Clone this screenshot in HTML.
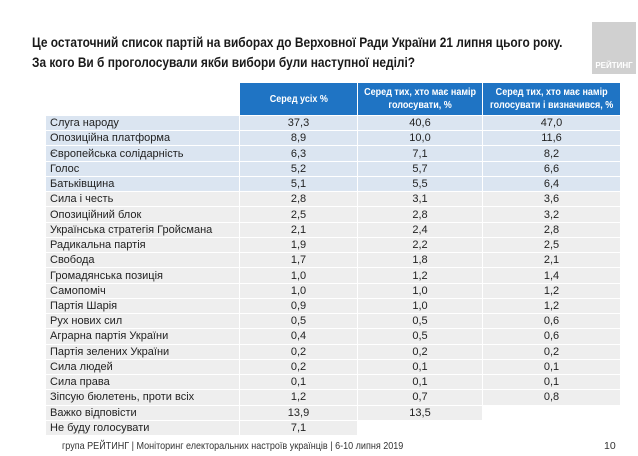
<!DOCTYPE html>
<html><head><meta charset="utf-8">
<style>
body{margin:0;width:638px;height:456px;background:#fff;font-family:"Liberation Sans",sans-serif;position:relative;overflow:hidden;color:#222}
.abs{position:absolute}
.title{left:32px;font-weight:bold;font-size:14px;color:#1a1a1a;white-space:nowrap;transform:scaleX(0.85);transform-origin:left center}
.hdr{top:83px;height:32px;background:#1f74c4;color:#fff;font-size:10.5px;font-weight:bold;display:flex;align-items:center;justify-content:center;text-align:center;line-height:13px}
.hdr span{display:inline-block;white-space:nowrap;transform:scaleX(0.86)}
.cell{font-size:11px;display:flex;align-items:center;box-sizing:border-box;white-space:nowrap}
.lab{padding-left:4px}
.num{justify-content:center}
</style></head><body>
<div class="abs" style="left:592px;top:22px;width:44px;height:52px;background:#d0d0d0"><div style="position:absolute;bottom:4px;width:44px;text-align:center;color:#fff;font-size:8px;font-weight:bold">РЕЙТИНГ</div></div>
<div class="abs title" style="top:34px">Це остаточний список партій на виборах до Верховної Ради України 21 липня цього року.</div>
<div class="abs title" style="top:54px">За кого Ви б проголосували якби вибори були наступної неділі?</div>
<div class="abs hdr" style="left:240px;width:117px"><span>Серед усіх %</span></div>
<div class="abs hdr" style="left:358px;width:124px"><span>Серед тих, хто має намір<br>голосувати, %</span></div>
<div class="abs hdr" style="left:483px;width:137px"><span>Серед тих, хто має намір<br>голосувати і визначився, %</span></div>
<div id="rows"></div>
<div class="abs" style="left:62px;top:440px;font-size:10.5px;color:#333;white-space:nowrap;transform:scaleX(0.86);transform-origin:left center">група РЕЙТИНГ | Моніторинг електоральних настроїв українців | 6-10 липня 2019</div>
<div class="abs" style="left:604px;top:440px;font-size:10.5px;color:#333">10</div>
<script>
const parties=["Слуга народу","Опозиційна платформа","Європейська солідарність","Голос","Батьківщина","Сила і честь","Опозиційний блок","Українська стратегія Гройсмана","Радикальна партія","Свобода","Громадянська позиція","Самопоміч","Партія Шарія","Рух нових сил","Аграрна партія України","Партія зелених України","Сила людей","Сила права","Зіпсую бюлетень, проти всіх","Важко відповісти","Не буду голосувати"];
const allVals=["37,3","8,9","6,3","5,2","5,1","2,8","2,5","2,1","1,9","1,7","1,0","1,0","0,9","0,5","0,4","0,2","0,2","0,1","1,2","13,9","7,1"];
const intendVals=["40,6","10,0","7,1","5,7","5,5","3,1","2,8","2,4","2,2","1,8","1,2","1,0","1,0","0,5","0,5","0,2","0,1","0,1","0,7","13,5",null];
const decidedVals=["47,0","11,6","8,2","6,6","6,4","3,6","3,2","2,8","2,5","2,1","1,4","1,2","1,2","0,6","0,6","0,2","0,1","0,1","0,8",null,null];
const top0=116,rh=15.24;
const cols=[[46,193],[240,117],[358,124],[483,137]];
const root=document.getElementById('rows');
parties.forEach((p,i)=>{
  const bg=i<5?'#dbe5f1':'#eeeeee';
  const vals=[p,allVals[i],intendVals[i],decidedVals[i]];
  vals.forEach((v,j)=>{
    if(v===null)return;
    const d=document.createElement('div');
    d.className='abs cell '+(j===0?'lab':'num');
    d.style.left=cols[j][0]+'px';d.style.width=cols[j][1]+'px';
    d.style.top=(top0+i*rh)+'px';d.style.height=(rh-1)+'px';
    d.style.background=bg;
    d.textContent=v;
    
    
    root.appendChild(d);
  });
});
</script>
</body></html>
